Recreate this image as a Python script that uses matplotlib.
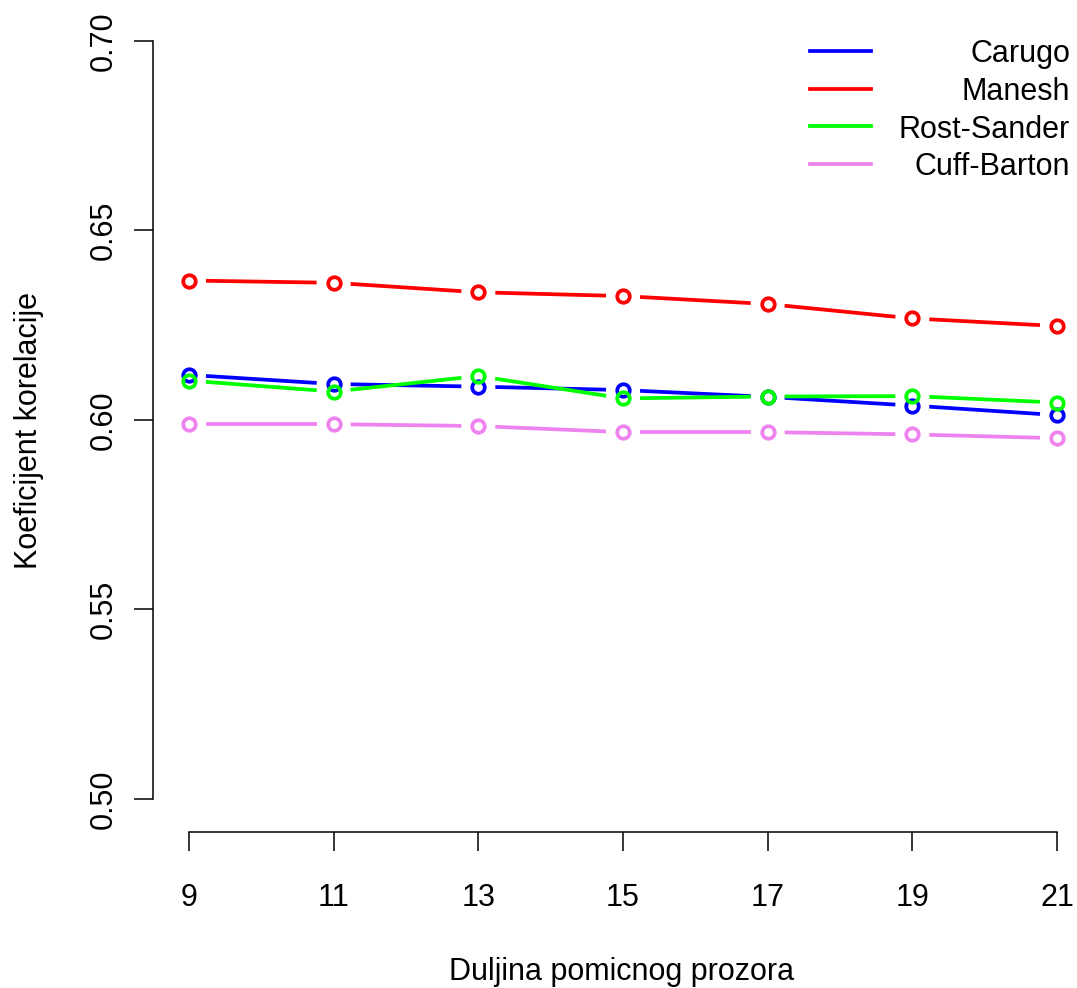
import numpy as np
import matplotlib
matplotlib.use("Agg")
import matplotlib.pyplot as plt

plt.rcParams['font.family'] = ['Liberation Sans', 'DejaVu Sans']

# window lengths
x = [9, 11, 13, 15, 17, 19, 21]

carugo = [0.6119, 0.6095, 0.6088, 0.6079, 0.6061, 0.6038, 0.6013]
manesh = [0.6368, 0.6362, 0.6337, 0.6327, 0.6306, 0.6268, 0.6248]
rost_sander = [0.6104, 0.6075, 0.6116, 0.6057, 0.6062, 0.6063, 0.6046]
cuff_barton = [0.5989, 0.5989, 0.5984, 0.5968, 0.5968, 0.5962, 0.5952]

names = ['Carugo', 'Manesh', 'Rost-Sander', 'Cuff-Barton']
series = [carugo, manesh, rost_sander, cuff_barton]
colors = ['#0000FF', '#FF0000', '#00FF00', '#EE82EE']

W, H = 1077, 988
fs = 22
fig = plt.figure(figsize=(W / 100, H / 100), dpi=100)
ax = fig.add_axes([153 / W, (H - 832) / H, (W - 153) / W, (832 - 20) / H])

xpx = 868 / 12.0
ypx = 758 / 0.2
ax.set_xlim(9 - 36 / xpx, 21 + 20 / xpx)
ax.set_ylim(0.5 - 33 / ypx, 0.7 + 21 / ypx)

gap = 17  # px gap around points, like R type="b"


def gapped(xs, ys):
    pts = ax.transData.transform(np.column_stack([xs, ys]))
    segs = []
    for p0, p1 in zip(pts[:-1], pts[1:]):
        d = p1 - p0
        n = np.hypot(*d)
        if n <= 2 * gap:
            continue
        u = d / n
        a = ax.transData.inverted().transform([p0 + u * gap, p1 - u * gap])
        segs.append(a)
    return segs


for ys, c in zip(series, colors):
    for s in gapped(x, ys):
        ax.plot(s[:, 0], s[:, 1], color=c, lw=2.7, solid_capstyle='butt')
    ax.plot(x, ys, ls='none', marker='o', ms=9, mfc='none', mec=c, mew=2.7)

for sp in ['top', 'right']:
    ax.spines[sp].set_visible(False)
ax.spines['left'].set_bounds(0.5, 0.7)
ax.spines['bottom'].set_bounds(9, 21)
ax.spines['left'].set_linewidth(1.1)
ax.spines['bottom'].set_linewidth(1.1)

ax.set_xticks(x)
ax.set_yticks([0.50, 0.55, 0.60, 0.65, 0.70])
ax.set_yticklabels(['0.50', '0.55', '0.60', '0.65', '0.70'], rotation=90, va='center')
ax.tick_params(axis='both', length=13.5, width=1.1, labelsize=fs, direction='out')
ax.tick_params(axis='x', pad=23.5)
ax.tick_params(axis='y', pad=11)

ax.set_xlabel('Duljina pomicnog prozora', fontsize=fs, va='baseline')
ax.xaxis.set_label_coords((622 - 153) / 924, (832 - 980) / 812)
ax.set_ylabel('Koeficijent korelacije', fontsize=fs, va='baseline')
ax.yaxis.set_label_coords((37 - 153) / 924, (832 - 430) / 812)

# legend, drawn R-style with right-aligned text
for i, (nm, c) in enumerate(zip(names, colors)):
    yy = 50.7 + i * 37.9
    yf = (H - yy) / H
    fig.add_artist(plt.Line2D([810 / W, 871 / W], [yf, yf], color=c, lw=2.7,
                              transform=fig.transFigure))
    fig.text(1070 / W, (H - yy - 11) / H, nm, ha='right', va='baseline', fontsize=fs)

fig.savefig('out.png', dpi=100)
